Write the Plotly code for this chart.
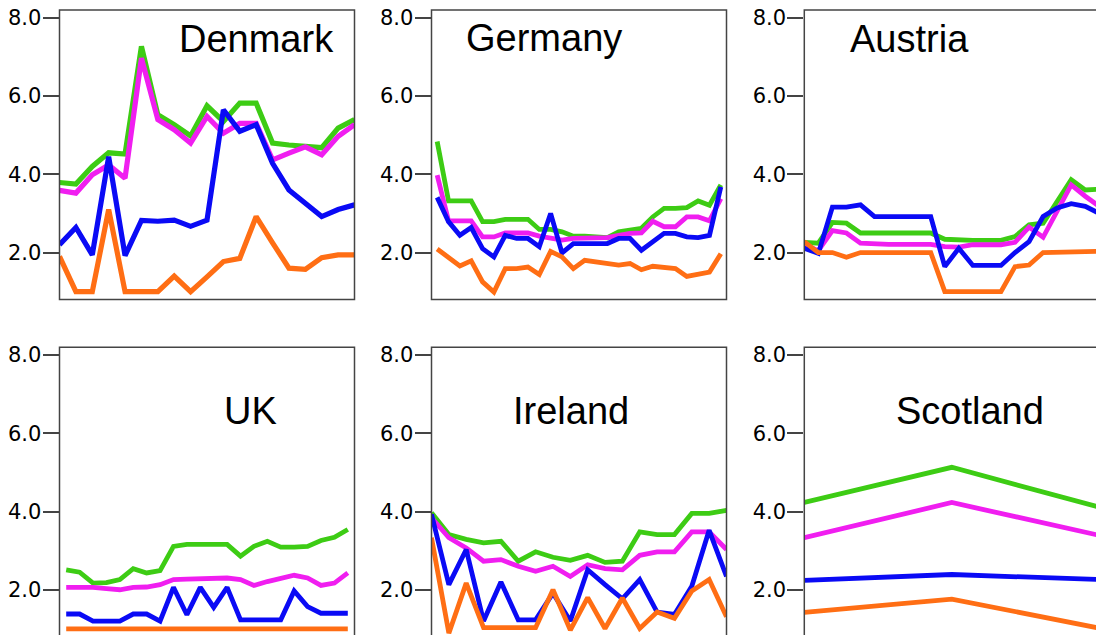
import plotly.graph_objects as go

# ---- data: four series per country, one value per period ----
dk_green = [3.79, 3.75, 4.2, 4.55, 4.52, 7.27, 5.52, 5.27, 4.98, 5.75, 5.35, 5.82, 5.82, 4.8, 4.75, 4.73, 4.68, 5.18, 5.4]
dk_magenta = [3.59, 3.52, 3.99, 4.24, 3.9, 6.97, 5.4, 5.14, 4.8, 5.48, 5.05, 5.3, 5.3, 4.37, 4.54, 4.7, 4.5, 4.97, 5.27]
dk_blue = [2.2, 2.64, 1.94, 4.45, 1.92, 2.82, 2.8, 2.83, 2.67, 2.83, 5.65, 5.1, 5.27, 4.28, 3.6, 3.26, 2.92, 3.1, 3.22]
dk_orange = [1.9, 1.0, 1.0, 3.1, 1.0, 1.0, 1.0, 1.4, 1.0, 1.38, 1.77, 1.85, 2.92, 2.25, 1.6, 1.57, 1.87, 1.94, 1.94]

de_green = [4.84, 3.32, 3.32, 3.32, 2.79, 2.79, 2.85, 2.85, 2.85, 2.59, 2.59, 2.53, 2.42, 2.42, 2.4, 2.38, 2.53, 2.57, 2.62, 2.91, 3.13, 3.13, 3.15, 3.32, 3.21, 3.73]
de_magenta = [3.98, 2.81, 2.81, 2.81, 2.4, 2.4, 2.5, 2.5, 2.5, 2.42, 2.38, 2.32, 2.36, 2.36, 2.38, 2.38, 2.44, 2.49, 2.5, 2.8, 2.66, 2.66, 2.91, 2.91, 2.81, 3.38]
de_blue = [3.41, 2.79, 2.44, 2.64, 2.1, 1.89, 2.44, 2.36, 2.36, 2.15, 3.0, 1.99, 2.23, 2.23, 2.23, 2.23, 2.36, 2.36, 2.06, 2.27, 2.49, 2.49, 2.4, 2.38, 2.44, 3.68]
de_orange = [2.09, 1.89, 1.66, 1.79, 1.25, 0.99, 1.59, 1.59, 1.63, 1.44, 2.03, 1.89, 1.59, 1.8, 1.76, 1.74, 1.68, 1.72, 1.56, 1.65, 1.63, 1.59, 1.39, 1.44, 1.5, 1.97]

at_green = [2.26, 2.24, 2.77, 2.75, 2.5, 2.5, 2.5, 2.5, 2.5, 2.5, 2.34, 2.31, 2.31, 2.31, 2.31, 2.41, 2.71, 2.75, 3.3, 3.86, 3.6, 3.62]
at_magenta = [2.2, 2.05, 2.56, 2.5, 2.24, 2.21, 2.21, 2.21, 2.21, 2.21, 2.15, 2.14, 2.2, 2.2, 2.2, 2.26, 2.65, 2.39, 3.05, 3.73, 3.44, 3.18]
at_blue = [2.11, 1.98, 3.16, 3.16, 3.22, 2.92, 2.92, 2.92, 2.92, 2.92, 1.64, 2.11, 1.67, 1.67, 1.67, 2.0, 2.28, 2.92, 3.14, 3.25, 3.18, 3.0]
at_orange = [2.28, 2.0, 2.0, 1.88, 2.0, 2.0, 2.0, 2.0, 2.0, 2.0, 1.0, 1.0, 1.0, 1.0, 1.0, 1.64, 1.68, 2.0, 2.0, 2.03, 2.03, 2.03]

uk_green = [2.51, 2.45, 2.17, 2.18, 2.26, 2.54, 2.43, 2.49, 3.11, 3.16, 3.16, 3.16, 3.16, 2.86, 3.11, 3.24, 3.09, 3.09, 3.11, 3.26, 3.34, 3.54]
uk_magenta = [2.06, 2.07, 2.06, 2.03, 2.0, 2.06, 2.07, 2.13, 2.26, 2.27, 2.28, 2.3, 2.3, 2.26, 2.11, 2.21, 2.28, 2.37, 2.3, 2.11, 2.17, 2.43]
uk_blue = [1.38, 1.38, 1.2, 1.2, 1.2, 1.38, 1.38, 1.2, 2.06, 1.36, 2.06, 1.55, 2.06, 1.23, 1.23, 1.23, 1.23, 1.97, 1.57, 1.4, 1.4, 1.4]
uk_orange = [1.0, 1.0, 1.0, 1.0, 1.0, 1.0, 1.0, 1.0, 1.0, 1.0, 1.0, 1.0, 1.0, 1.0, 1.0, 1.0, 1.0, 1.0, 1.0, 1.0, 1.0, 1.0]

ie_green = [3.97, 3.41, 3.29, 3.2, 3.24, 2.73, 2.97, 2.83, 2.75, 2.88, 2.7, 2.73, 3.48, 3.41, 3.41, 3.95, 3.95, 4.03]
ie_magenta = [3.84, 3.33, 3.07, 2.73, 2.77, 2.6, 2.47, 2.6, 2.34, 2.64, 2.54, 2.51, 2.88, 2.97, 2.97, 3.48, 3.48, 3.03]
ie_blue = [3.93, 2.13, 3.03, 1.2, 2.2, 1.23, 1.23, 1.91, 1.2, 2.51, 2.13, 1.77, 2.26, 1.43, 1.37, 2.09, 3.52, 2.34]
ie_orange = [3.33, 0.89, 2.17, 1.03, 1.03, 1.03, 1.03, 2.0, 0.97, 1.8, 1.01, 1.79, 1.01, 1.43, 1.27, 1.97, 2.26, 1.31]

sc_green = [4.23, 5.13, 4.11]
sc_magenta = [3.33, 4.23, 3.39]
sc_blue = [2.24, 2.39, 2.26]
sc_orange = [1.42, 1.76, 1.02]

countries = ["Denmark", "Germany", "Austria", "UK", "Ireland", "Scotland"]
y_ticks = [2.0, 4.0, 6.0, 8.0]
y_range = [0.8, 8.2]

colors = ["#3dcc14", "#f01ef0", "#0a0af5", "#ff6e14"]

# ---- page geometry (pixels) ----
W, H = 1096, 635
col_left = [59.5, 431.5, 804.3]
row_top = [10.0, 347.2]
panel_w, panel_h = 295.0, 289.5

series = [
    (dk_green, dk_magenta, dk_blue, dk_orange),
    (de_green, de_magenta, de_blue, de_orange),
    (at_green, at_magenta, at_blue, at_orange),
    (uk_green, uk_magenta, uk_blue, uk_orange),
    (ie_green, ie_magenta, ie_blue, ie_orange),
    (sc_green, sc_magenta, sc_blue, sc_orange),
]
x_pad = [0.0, 0.5, 0.0, 0.5, 0.0, 0.0]
line_w = [5.2, 4.8, 4.8, 4.8, 4.8, 4.8]
title_pos = [(256.5, 38.5), (544.0, 38.0), (909.7, 38.5),
             (250.0, 410.5), (570.5, 410.5), (970.3, 410.5)]

TITLE_FONT = "Liberation Sans, Arial, Helvetica, sans-serif"
TICK_FONT = "DejaVu Sans, Verdana, sans-serif"

fig = go.Figure()
layout = dict(
    width=W, height=H,
    margin=dict(l=0, r=0, t=0, b=0),
    paper_bgcolor="white", plot_bgcolor="white",
    showlegend=False,
    font=dict(family=TITLE_FONT, color="black"),
)
shapes, annotations = [], []

for k, name in enumerate(countries):
    row, col = divmod(k, 3)
    sfx = "" if k == 0 else str(k + 1)
    left = col_left[col]
    top = row_top[row]
    right = left + panel_w
    bottom = top + panel_h
    vis_right = min(right, W)
    vis_bottom = min(bottom, H)

    n = len(series[k][0])
    pad = x_pad[k]
    span = (n - 1) + 2 * pad
    x_hi = -pad + span * (vis_right - left) / panel_w
    units_per_px = (y_range[1] - y_range[0]) / panel_h
    y_lo = y_range[0] + (bottom - vis_bottom) * units_per_px

    for vals, c in zip(series[k], colors):
        fig.add_trace(go.Scatter(
            x=list(range(len(vals))), y=vals, mode="lines",
            line=dict(color=c, width=line_w[k]),
            xaxis="x" + sfx, yaxis="y" + sfx, hoverinfo="skip",
        ))

    layout["xaxis" + sfx] = dict(
        domain=[left / W, vis_right / W], range=[-pad, x_hi],
        visible=False, anchor="y" + sfx, fixedrange=True,
    )
    layout["yaxis" + sfx] = dict(
        domain=[1 - vis_bottom / H, 1 - top / H], range=[y_lo, y_range[1]],
        anchor="x" + sfx, tickvals=y_ticks, tickformat=".1f",
        ticks="outside", ticklen=16, tickwidth=1.5, tickcolor="#444444",
        showline=False, showgrid=False, zeroline=False,
        tickfont=dict(family=TICK_FONT, size=21, color="black"),
        ticklabelstandoff=-3,
        automargin=False, fixedrange=True,
    )

    # panel frame (may run past the page edge, where it is cut off)
    shapes.append(dict(
        type="rect", xref="paper", yref="paper", layer="above",
        x0=left / W, x1=right / W, y0=1 - bottom / H, y1=1 - top / H,
        line=dict(color="#444444", width=1.5), fillcolor="rgba(0,0,0,0)",
    ))

    tx, ty = title_pos[k]
    annotations.append(dict(
        text=name, xref="paper", yref="paper", x=tx / W, y=1 - ty / H,
        xanchor="center", yanchor="middle", showarrow=False,
        font=dict(family=TITLE_FONT, size=38, color="black"),
    ))

layout["shapes"] = shapes
layout["annotations"] = annotations
fig.update_layout(**layout)

fig.write_html("out.html", config={"displayModeBar": False})
